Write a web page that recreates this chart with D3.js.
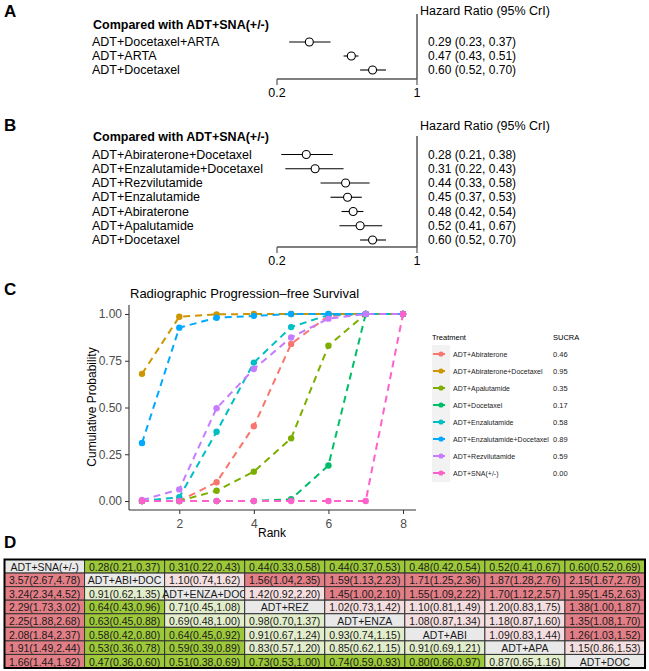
<!DOCTYPE html>
<html><head><meta charset="utf-8">
<script src="https://cdn.jsdelivr.net/npm/d3@7/dist/d3.min.js"></script>
<style>body{margin:0;background:#fff}svg{display:block;font-family:"Liberation Sans",Arial,sans-serif}</style>
</head><body><svg id="c" width="649" height="671"></svg>
<script>
// ---------- DATA ----------
const forestHeader = "Compared with ADT+SNA(+/-)";
const forestA_labels = ["ADT+Docetaxel+ARTA","ADT+ARTA","ADT+Docetaxel"];
const forestA_hr = [0.29,0.47,0.60];
const forestA_lo = [0.23,0.43,0.52];
const forestA_hi = [0.37,0.51,0.70];

const forestB_labels = ["ADT+Abiraterone+Docetaxel","ADT+Enzalutamide+Docetaxel","ADT+Rezvilutamide","ADT+Enzalutamide","ADT+Abiraterone","ADT+Apalutamide","ADT+Docetaxel"];
const forestB_hr = [0.28,0.31,0.44,0.45,0.48,0.52,0.60];
const forestB_lo = [0.21,0.22,0.33,0.37,0.42,0.41,0.52];
const forestB_hi = [0.38,0.43,0.58,0.53,0.54,0.67,0.70];
const forestTicks = [0.2,1];

const rankTitle = "Radiographic Progression\u2013free Survival";
const ranks = [1,2,3,4,5,6,7,8];
const treatments = ["ADT+Abiraterone","ADT+Abiraterone+Docetaxel","ADT+Apalutamide","ADT+Docetaxel","ADT+Enzalutamide","ADT+Enzalutamide+Docetaxel","ADT+Rezvilutamide","ADT+SNA(+/-)"];
const sucra = ["0.46","0.95","0.35","0.17","0.58","0.89","0.59","0.00"];
const treatColors = ["#F8766D","#CD9600","#7CAE00","#00BE67","#00BFC4","#00A9FF","#C77CFF","#FF61CC"];
const cumAbi     = [0.00,0.00,0.10,0.40,0.84,0.99,1.00,1.00];
const cumAbiDoc  = [0.68,0.985,0.998,1.00,1.00,1.00,1.00,1.00];
const cumApa     = [0.00,0.00,0.055,0.157,0.335,0.83,1.00,1.00];
const cumDoc     = [0.00,0.00,0.00,0.00,0.01,0.19,1.00,1.00];
const cumEnza    = [0.00,0.02,0.37,0.74,0.93,0.995,1.00,1.00];
const cumEnzaDoc = [0.31,0.927,0.98,0.99,1.00,1.00,1.00,1.00];
const cumRez     = [0.005,0.062,0.496,0.706,0.875,0.975,1.00,1.00];
const cumSna     = [0.00,0.00,0.00,0.00,0.00,0.00,0.00,1.00];
const cumSeries = [cumAbi,cumAbiDoc,cumApa,cumDoc,cumEnza,cumEnzaDoc,cumRez,cumSna];
const yTicks = [0,0.25,0.5,0.75,1];
const xTicks = [2,4,6,8];

const tableCells = [
 ["ADT+SNA(+/-)","0.28(0.21,0.37)","0.31(0.22,0.43)","0.44(0.33,0.58)","0.44(0.37,0.53)","0.48(0.42,0.54)","0.52(0.41,0.67)","0.60(0.52,0.69)"],
 ["3.57(2.67,4.78)","ADT+ABI+DOC","1.10(0.74,1.62)","1.56(1.04,2.35)","1.59(1.13,2.23)","1.71(1.25,2.36)","1.87(1.28,2.76)","2.15(1.67,2.78)"],
 ["3.24(2.34,4.52)","0.91(0.62,1.35)","ADT+ENZA+DOC","1.42(0.92,2.20)","1.45(1.00,2.10)","1.55(1.09,2.22)","1.70(1.12,2.57)","1.95(1.45,2.63)"],
 ["2.29(1.73,3.02)","0.64(0.43,0.96)","0.71(0.45,1.08)","ADT+REZ","1.02(0.73,1.42)","1.10(0.81,1.49)","1.20(0.83,1.75)","1.38(1.00,1.87)"],
 ["2.25(1.88,2.68)","0.63(0.45,0.88)","0.69(0.48,1.00)","0.98(0.70,1.37)","ADT+ENZA","1.08(0.87,1.34)","1.18(0.87,1.60)","1.35(1.08,1.70)"],
 ["2.08(1.84,2.37)","0.58(0.42,0.80)","0.64(0.45,0.92)","0.91(0.67,1.24)","0.93(0.74,1.15)","ADT+ABI","1.09(0.83,1.44)","1.26(1.03,1.52)"],
 ["1.91(1.49,2.44)","0.53(0.36,0.78)","0.59(0.39,0.89)","0.83(0.57,1.20)","0.85(0.62,1.15)","0.91(0.69,1.21)","ADT+APA","1.15(0.86,1.53)"],
 ["1.66(1.44,1.92)","0.47(0.36,0.60)","0.51(0.38,0.69)","0.73(0.53,1.00)","0.74(0.59,0.93)","0.80(0.66,0.97)","0.87(0.65,1.16)","ADT+DOC"]
];
// G strong green, g light green, R strong red, r light red, d diagonal
const tableLevels = [
 "dGGGGGGG",
 "RdrRRRRR",
 "RgdrRRRR",
 "RGgdrrrR",
 "RGggdrrR",
 "RGGggdrR",
 "RGGgggdr",
 "RGGGGGgd"
];
const levelColors = {G:"#9CC83A", g:"#E2EDCB", R:"#E27E86", r:"#F5DEDF", d:"#E9E9E9"};

// ---------- DRAW ----------
const svg = d3.select("#c");
svg.append("rect").attr("width",649).attr("height",671).attr("fill","#fff");

function panelLabel(t,x,y){
  svg.append("text").attr("x",x).attr("y",y).text(t)
    .attr("font-size",17).attr("font-weight","bold").attr("fill","#000");
}
panelLabel("A",4,17); panelLabel("B",4,131); panelLabel("C",4,295); panelLabel("D",4,548);

const fx = d3.scaleLog().domain([0.2,1]).range([277,417]);

function forest(labels,hr,lo,hi,cfg){
  const g = svg.append("g");
  const y = d3.scaleLinear().domain([0,labels.length-1]).range([cfg.y0,cfg.y1]);
  g.append("text").attr("x",93).attr("y",cfg.headY).attr("dominant-baseline","central")
    .attr("font-size",12.5).attr("font-weight","bold").text(forestHeader);
  g.append("text").attr("x",420).attr("y",cfg.hrY).attr("dominant-baseline","central")
    .attr("font-size",12.5).text("Hazard Ratio (95% CrI)");
  // reference line at 1
  g.append("line").attr("x1",fx(1)).attr("x2",fx(1)).attr("y1",cfg.vTop).attr("y2",cfg.axisY)
    .attr("stroke","#555").attr("stroke-width",1.5);
  // axis
  g.append("line").attr("x1",fx(0.2)).attr("x2",fx(1)).attr("y1",cfg.axisY).attr("y2",cfg.axisY)
    .attr("stroke","#555").attr("stroke-width",1.5);
  forestTicks.forEach(t=>{
    g.append("line").attr("x1",fx(t)).attr("x2",fx(t)).attr("y1",cfg.axisY).attr("y2",cfg.axisY+6)
      .attr("stroke","#555").attr("stroke-width",1.2);
    g.append("text").attr("x",fx(t)).attr("y",cfg.axisY+14).attr("dominant-baseline","central")
      .attr("text-anchor","middle").attr("font-size",12.5).text(d3.format("")(t));
  });
  labels.forEach((l,i)=>{
    g.append("text").attr("x",92).attr("y",y(i)).attr("dominant-baseline","central")
      .attr("font-size",12.5).text(l);
    g.append("line").attr("x1",fx(lo[i])).attr("x2",fx(hi[i])).attr("y1",y(i)).attr("y2",y(i))
      .attr("stroke","#000").attr("stroke-width",1.1);
    g.append("circle").attr("cx",fx(hr[i])).attr("cy",y(i)).attr("r",4)
      .attr("fill","#fff").attr("stroke","#000").attr("stroke-width",1.1);
    g.append("text").attr("x",428).attr("y",y(i)).attr("dominant-baseline","central")
      .attr("font-size",12)
      .text(`${hr[i].toFixed(2)} (${lo[i].toFixed(2)}, ${hi[i].toFixed(2)})`);
  });
}
forest(forestA_labels,forestA_hr,forestA_lo,forestA_hi,{y0:42,y1:70,headY:25,hrY:11,vTop:14,axisY:79});
forest(forestB_labels,forestB_hr,forestB_lo,forestB_hi,{y0:154.5,y1:240,headY:137,hrY:126,vTop:136,axisY:247});

// ---------- Panel C ----------
const cx = d3.scaleLinear().domain([1,8]).range([142,403]);
const cy = d3.scaleLinear().domain([0,1]).range([501,314]);
const pc = svg.append("g");
pc.append("text").attr("x",130).attr("y",293).attr("dominant-baseline","central")
  .attr("font-size",13).attr("fill","#000").text(rankTitle);
const xAxis = d3.axisBottom(cx).tickValues(xTicks).tickSize(4).tickSizeOuter(0).tickFormat(d3.format("d"));
const yAxis = d3.axisLeft(cy).tickValues(yTicks).tickSize(4).tickSizeOuter(0).tickFormat(d3.format(".2f"));
const gx = pc.append("g").attr("transform","translate(0,510)").call(xAxis);
const gy = pc.append("g").attr("transform","translate(129,0)").call(yAxis);
[gx,gy].forEach(a=>{
  a.select(".domain").remove();
  a.selectAll(".tick line").attr("stroke","#333").attr("stroke-width",1);
  a.selectAll(".tick text").attr("fill","#4D4D4D").attr("font-size",12)
    .attr("font-family","Liberation Sans, Arial, sans-serif");
});
gx.selectAll(".tick text").attr("dy","0.9em");
pc.append("line").attr("x1",129).attr("x2",416).attr("y1",510).attr("y2",510).attr("stroke","#333").attr("stroke-width",1.1);
pc.append("line").attr("x1",129).attr("x2",129).attr("y1",305).attr("y2",510).attr("stroke","#333").attr("stroke-width",1.1);
pc.append("text").attr("x",272).attr("y",533).attr("text-anchor","middle").attr("dominant-baseline","central")
  .attr("font-size",12).text("Rank");
pc.append("text").attr("transform","translate(92,407) rotate(-90)").attr("text-anchor","middle")
  .attr("dominant-baseline","central").attr("font-size",12).text("Cumulative Probability");

const line = d3.line().x((d,i)=>cx(ranks[i])).y(d=>cy(d));
cumSeries.forEach((s,k)=>{
  pc.append("path").attr("d",line(s)).attr("fill","none").attr("stroke",treatColors[k])
    .attr("stroke-width",2).attr("stroke-dasharray","7,5");
  pc.selectAll(null).data(s).enter().append("circle")
    .attr("cx",(d,i)=>cx(ranks[i])).attr("cy",d=>cy(d)).attr("r",3.2).attr("fill",treatColors[k]);
});

// legend
const lg = svg.append("g");
lg.append("text").attr("x",432).attr("y",337).attr("dominant-baseline","central").attr("font-size",7.5).text("Treatment");
lg.append("text").attr("x",553).attr("y",337).attr("dominant-baseline","central").attr("font-size",7.5).text("SUCRA");
const ly = d3.scaleLinear().domain([0,7]).range([354,473]);
lg.append("rect").attr("x",432).attr("y",345).attr("width",18).attr("height",137).attr("fill","#F2F2F2");
treatments.forEach((t,i)=>{
  lg.append("line").attr("x1",433).attr("x2",445).attr("y1",ly(i)).attr("y2",ly(i))
    .attr("stroke",treatColors[i]).attr("stroke-width",2);
  lg.append("circle").attr("cx",441).attr("cy",ly(i)).attr("r",2.6).attr("fill",treatColors[i]);
  lg.append("text").attr("x",453).attr("y",ly(i)).attr("dominant-baseline","central").attr("font-size",7).attr("fill","#222").text(t);
  lg.append("text").attr("x",553).attr("y",ly(i)).attr("dominant-baseline","central").attr("font-size",7.5).attr("fill","#222").text(sucra[i]);
});

// ---------- Panel D ----------
const tx = d3.scaleLinear().domain([0,8]).range([4.5,645]);
const ty = d3.scaleLinear().domain([0,8]).range([559.5,668]);
const td = svg.append("g");
tableCells.forEach((row,r)=>{
  row.forEach((cell,c)=>{
    td.append("rect").attr("x",tx(c)).attr("y",ty(r)).attr("width",tx(c+1)-tx(c)).attr("height",ty(r+1)-ty(r))
      .attr("fill",levelColors[tableLevels[r][c]]).attr("stroke","#333").attr("stroke-width",1);
    td.append("text").attr("x",(tx(c)+tx(c+1))/2).attr("y",(ty(r)+ty(r+1))/2+0.5)
      .attr("text-anchor","middle").attr("dominant-baseline","central").attr("font-size",10.5).attr("fill","#1a1a1a").text(cell);
  });
});
td.append("rect").attr("x",tx(0)).attr("y",ty(0)).attr("width",tx(8)-tx(0)).attr("height",ty(8)-ty(0))
  .attr("fill","none").attr("stroke","#000").attr("stroke-width",2);
</script></body></html>
